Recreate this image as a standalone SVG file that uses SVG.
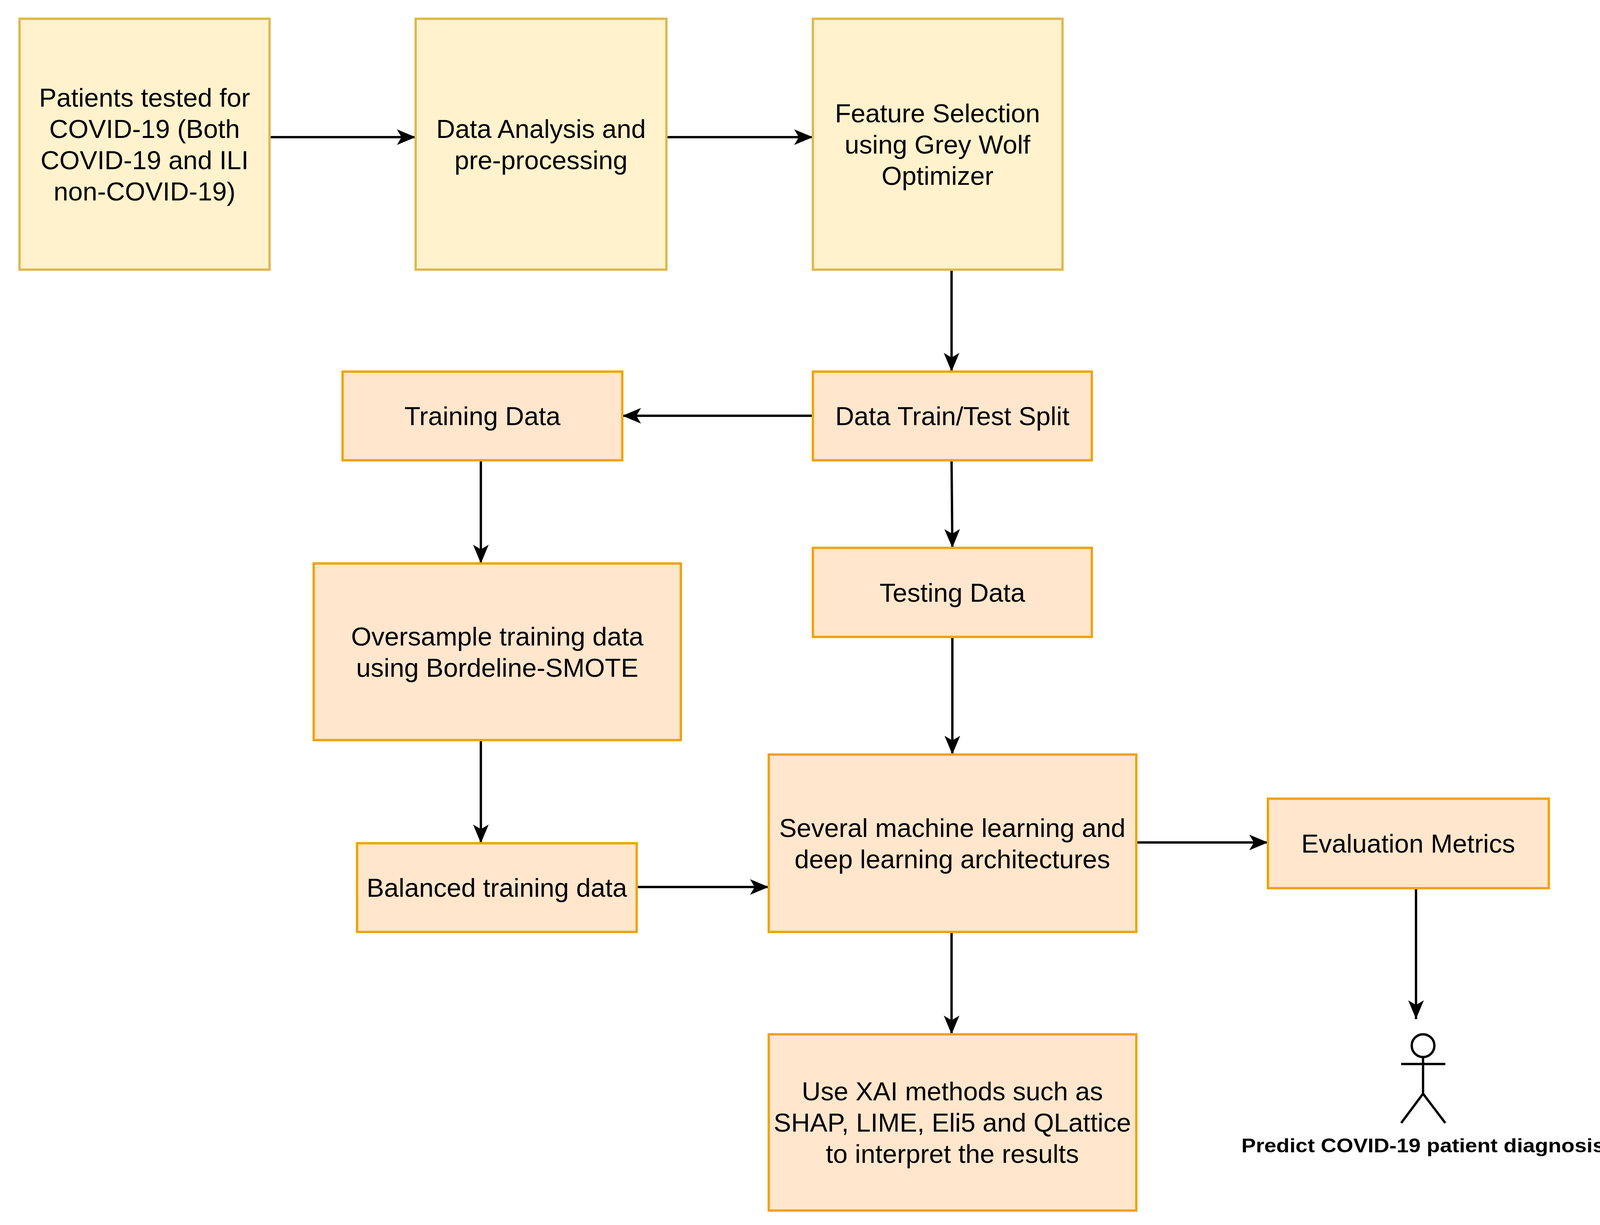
<svg xmlns="http://www.w3.org/2000/svg" width="4142" height="3135" viewBox="0 0 4142 3135">
<style>
.y{fill:#fff2cc;stroke:#e0b850;stroke-width:6}
.o{fill:#ffe6cc;stroke:#f0a30a;stroke-width:6}
text{font-family:"Liberation Sans",Arial,sans-serif;font-size:67px;fill:#000;text-anchor:middle;dominant-baseline:central}
.c line{stroke:#000;stroke-width:6;marker-end:url(#a)}
</style>
<defs><marker id="a" markerUnits="userSpaceOnUse" markerWidth="50" markerHeight="50" refX="48" refY="20" orient="auto" viewBox="0 0 50 40"><path d="M0,0 L48,20 L0,40 L12,20 Z" fill="#000"/></marker></defs>
<rect width="4142" height="3135" fill="#fff"/>
<g class="c">
<line x1="690" y1="351" x2="1064" y2="351"/>
<line x1="1706" y1="351" x2="2081" y2="351"/>
<line x1="2436" y1="690" x2="2436" y2="951"/>
<line x1="2081" y1="1064" x2="1593" y2="1064"/>
<line x1="2436" y1="1178" x2="2438" y2="1402"/>
<line x1="1231" y1="1178" x2="1231" y2="1442"/>
<line x1="1231" y1="1894" x2="1231" y2="2158"/>
<line x1="2438" y1="1630" x2="2438" y2="1931"/>
<line x1="1630" y1="2270" x2="1968" y2="2270"/>
<line x1="2909" y1="2156" x2="3246" y2="2156"/>
<line x1="2436" y1="2385" x2="2436" y2="2647"/>
<line x1="3625" y1="2273" x2="3625" y2="2608"/>
</g>
<g id="n1"><rect class="y" x="50" y="48" width="640" height="642"/><text x="370" y="249">Patients tested for</text><text x="370" y="329">COVID-19 (Both</text><text x="370" y="409">COVID-19 and ILI</text><text x="370" y="489">non-COVID-19)</text></g>
<g id="n2"><rect class="y" x="1064" y="48" width="642" height="642"/><text x="1385" y="329">Data Analysis and</text><text x="1385" y="409">pre-processing</text></g>
<g id="n3"><rect class="y" x="2081" y="48" width="639" height="642"/><text x="2400" y="289">Feature Selection</text><text x="2400" y="369">using Grey Wolf</text><text x="2400" y="449">Optimizer</text></g>
<g id="n4"><rect class="o" x="2081" y="951" width="714" height="227"/><text x="2438" y="1064">Data Train/Test Split</text></g>
<g id="n5"><rect class="o" x="877" y="951" width="716" height="227"/><text x="1235" y="1064">Training Data</text></g>
<g id="n6"><rect class="o" x="2081" y="1402" width="714" height="228"/><text x="2438" y="1516">Testing Data</text></g>
<g id="n7"><rect class="o" x="803" y="1442" width="940" height="452"/><text x="1273" y="1628">Oversample training data</text><text x="1273" y="1708">using Bordeline-SMOTE</text></g>
<g id="n8"><rect class="o" x="914" y="2158" width="716" height="227"/><text x="1272" y="2271">Balanced training data</text></g>
<g id="n9"><rect class="o" x="1968" y="1931" width="941" height="454"/><text x="2438" y="2118">Several machine learning and</text><text x="2438" y="2198">deep learning architectures</text></g>
<g id="n10"><rect class="o" x="3246" y="2044" width="719" height="229"/><text x="3605" y="2158">Evaluation Metrics</text></g>
<g id="n11"><rect class="o" x="1968" y="2647" width="941" height="451"/><text x="2438" y="2792">Use XAI methods such as</text><text x="2438" y="2872">SHAP, LIME, Eli5 and QLattice</text><text x="2438" y="2952">to interpret the results</text></g>
<g id="actor" fill="none" stroke="#000" stroke-width="6">
<circle cx="3643" cy="2676" r="29"/>
<line x1="3643" y1="2705" x2="3643" y2="2799"/>
<line x1="3587" y1="2723" x2="3700" y2="2723"/>
<polyline points="3587,2874 3643,2799 3700,2874"/>
<text x="3643" y="2932" stroke="none" fill="#000" textLength="930" lengthAdjust="spacingAndGlyphs" style="font-weight:bold;font-size:50px">Predict COVID-19 patient diagnosis</text>
</g>
</svg>
